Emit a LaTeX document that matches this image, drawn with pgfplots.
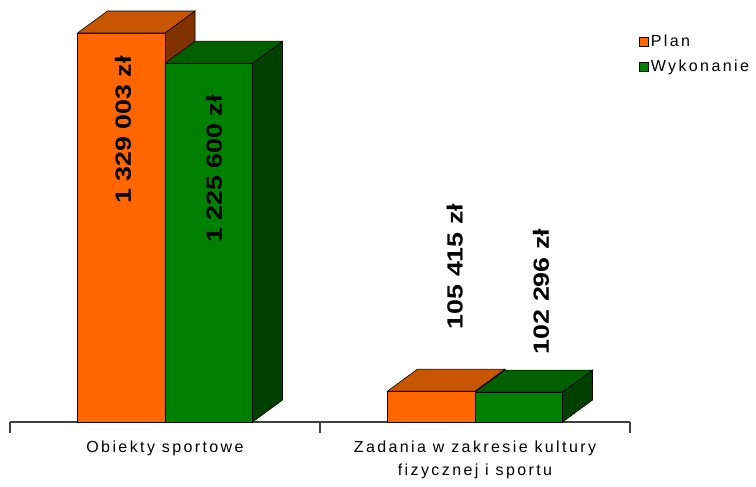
\documentclass[border=0pt]{standalone}
\usepackage{pgfplots}
\pgfplotsset{compat=1.18}
\usepackage{fontspec}
\setmainfont{Liberation Sans}
\newfontfamily\lblfont[LetterSpace=15]{Liberation Sans}
\definecolor{OrFront}{HTML}{FF6600}
\definecolor{OrTop}{HTML}{C85500}
\definecolor{OrSide}{HTML}{803300}
\definecolor{GrFront}{HTML}{008000}
\definecolor{GrTop}{HTML}{006000}
\definecolor{GrSide}{HTML}{004000}
\newcommand{\vlab}[1]{\scalebox{1.22}[1]{\fontsize{22}{22}\selectfont\bfseries #1}}
\begin{document}
\begin{tikzpicture}
\begin{axis}[
  scale only axis, width=620pt, height=415.6pt,
  xmin=0, xmax=2, ymin=0, ymax=1420000,
  clip=false,
  axis x line*=bottom, axis y line=none,
  axis line style={draw=black!75, line width=1.1pt},
  xtick={0.5,1.5},
  xticklabels={Obiekty sportowe, {Zadania w zakresie kultury\\fizycznej i sportu}},
  major tick length=0pt,
  xticklabel style={align=center, anchor=north, yshift=-15pt, font=\lblfont\fontsize{16}{23}\selectfont},
  extra x ticks={0,1,2},
  extra x tick labels={},
  extra x tick style={major tick length=11pt, tick align=outside, tick style={draw=black!75, line width=1.1pt}},
  legend style={draw=none, fill=none, at={(rel axis cs:1.0145,0.936)}, anchor=north west,
    font=\lblfont\fontsize{16}{17}\selectfont, row sep=8pt, inner sep=0pt, nodes={inner sep=2pt}},
  legend cell align=left,
  legend image code/.code={\draw[#1, line width=0.6pt] (0pt,-4.5pt) rectangle (9pt,4.5pt);},
]
% --- Plan (orange) ---
\addplot[forget plot, fill=OrSide, draw=black, line width=0.6pt] coordinates {(0.5,0) (0.5,1329003) (0.5968,1404163) (0.5968,75160) (0.5,0)};
\addplot[forget plot, fill=OrTop, draw=black, line width=0.6pt] coordinates {(0.2177,1329003) (0.5,1329003) (0.5968,1404163) (0.3145,1404163) (0.2177,1329003)};
\addplot[forget plot, fill=OrSide, draw=black, line width=0.6pt] coordinates {(1.5,0) (1.5,105415) (1.5968,180575) (1.5968,75160) (1.5,0)};
\addplot[forget plot, fill=OrTop, draw=black, line width=0.6pt] coordinates {(1.2177,105415) (1.5,105415) (1.5968,180575) (1.3145,180575) (1.2177,105415)};
\addplot[forget plot, ybar, bar width=0.2823, bar shift=-0.14115, fill=OrFront, draw=black, line width=0.6pt] coordinates {(0.5,1329003) (1.5,105415)};
% --- Wykonanie (green) ---
\addplot[forget plot, fill=GrSide, draw=black, line width=0.6pt] coordinates {(0.7823,0) (0.7823,1225600) (0.8791,1300760) (0.8791,75160) (0.7823,0)};
\addplot[forget plot, fill=GrTop, draw=black, line width=0.6pt] coordinates {(0.5,1225600) (0.7823,1225600) (0.8791,1300760) (0.5968,1300760) (0.5,1225600)};
\addplot[forget plot, fill=GrSide, draw=black, line width=0.6pt] coordinates {(1.7823,0) (1.7823,102296) (1.8791,177456) (1.8791,75160) (1.7823,0)};
\addplot[forget plot, fill=GrTop, draw=black, line width=0.6pt] coordinates {(1.5,102296) (1.7823,102296) (1.8791,177456) (1.5968,177456) (1.5,102296)};
\addplot[forget plot, ybar, bar width=0.2823, bar shift=0.14115, fill=GrFront, draw=black, line width=0.6pt] coordinates {(0.5,1225600) (1.5,102296)};
% value labels
\node[rotate=90] at (axis cs:0.3645,997600) {\vlab{1 329 003 zł}};
\node[rotate=90] at (axis cs:0.658,864370) {\vlab{1 225 600 zł}};
\node[rotate=90] at (axis cs:1.435,531260) {\vlab{105 415 zł}};
\node[rotate=90] at (axis cs:1.713,445840) {\vlab{102 296 zł}};
% legend
\addlegendimage{fill=OrFront, draw=black}
\addlegendentry{Plan}
\addlegendimage{fill=GrFront, draw=black}
\addlegendentry{Wykonanie}
\coordinate (bbsw) at (rel axis cs:-0.016129,-0.154);
\coordinate (bbne) at (rel axis cs:1.203226,1.0154);
\end{axis}
\pgfresetboundingbox
\path (bbsw) rectangle (bbne);
\end{tikzpicture}
\end{document}
